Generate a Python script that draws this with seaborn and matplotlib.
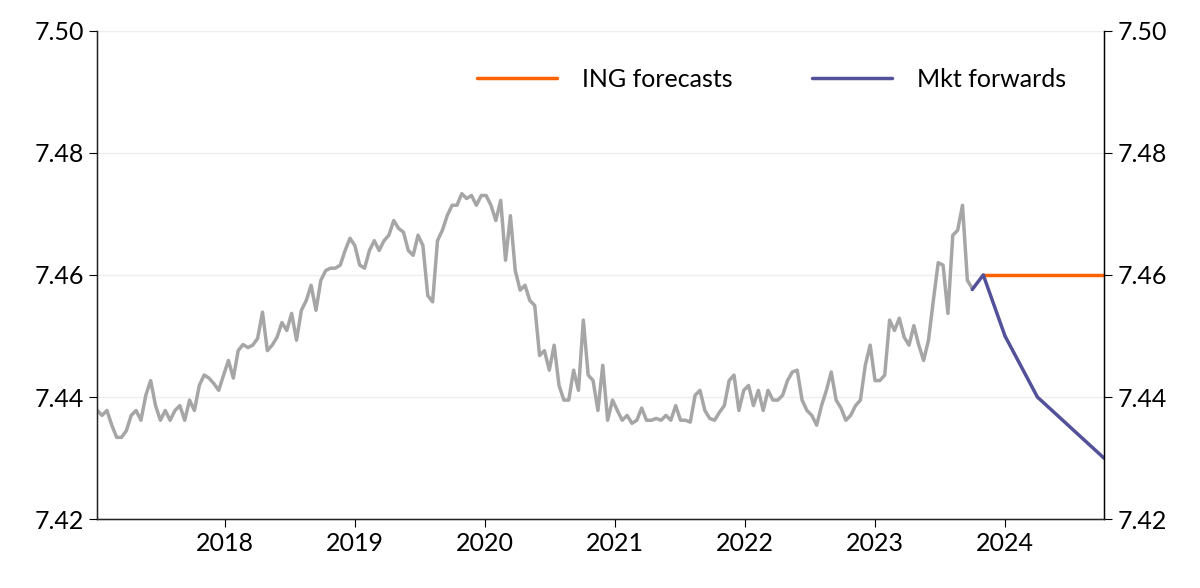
import numpy as np
import pandas as pd
import seaborn as sns
import matplotlib.pyplot as plt
import matplotlib.dates as mdates

spot_start, spot_end = "2017-01-08", "2023-10-01"
spot_values = [
    7.4378, 7.4370, 7.4378, 7.4354, 7.4334, 7.4334, 7.4345, 7.4370, 7.4378, 7.4362, 7.4403, 7.4427,
    7.4386, 7.4362, 7.4378, 7.4362, 7.4378, 7.4386, 7.4362, 7.4395, 7.4378, 7.4419, 7.4436, 7.4431,
    7.4422, 7.4411, 7.4436, 7.4460, 7.4431, 7.4476, 7.4486, 7.4481, 7.4485, 7.4496, 7.4539, 7.4476,
    7.4485, 7.4498, 7.4522, 7.4509, 7.4537, 7.4493, 7.4542, 7.4558, 7.4583, 7.4542, 7.4591, 7.4607,
    7.4611, 7.4611, 7.4616, 7.4640, 7.4660, 7.4648, 7.4616, 7.4611, 7.4640, 7.4656, 7.4640, 7.4656,
    7.4665, 7.4689, 7.4676, 7.4670, 7.4640, 7.4632, 7.4665, 7.4648, 7.4566, 7.4556, 7.4656, 7.4673,
    7.4697, 7.4714, 7.4714, 7.4733, 7.4725, 7.4730, 7.4714, 7.4730, 7.4730, 7.4714, 7.4689, 7.4722,
    7.4624, 7.4697, 7.4607, 7.4575, 7.4583, 7.4558, 7.4550, 7.4468, 7.4476, 7.4444, 7.4485, 7.4419,
    7.4395, 7.4395, 7.4444, 7.4411, 7.4526, 7.4436, 7.4427, 7.4378, 7.4452, 7.4362, 7.4395, 7.4378,
    7.4362, 7.4370, 7.4357, 7.4362, 7.4382, 7.4362, 7.4362, 7.4365, 7.4362, 7.4370, 7.4362, 7.4386,
    7.4362, 7.4362, 7.4359, 7.4403, 7.4411, 7.4378, 7.4365, 7.4362, 7.4375, 7.4386, 7.4427, 7.4436,
    7.4378, 7.4411, 7.4419, 7.4386, 7.4411, 7.4378, 7.4411, 7.4395, 7.4395, 7.4403, 7.4427, 7.4441,
    7.4444, 7.4395, 7.4378, 7.4370, 7.4354, 7.4386, 7.4411, 7.4441, 7.4395, 7.4382, 7.4362, 7.4370,
    7.4386, 7.4395, 7.4452, 7.4485, 7.4427, 7.4427, 7.4436, 7.4526, 7.4509, 7.4529, 7.4498, 7.4485,
    7.4517, 7.4485, 7.4460, 7.4493, 7.4558, 7.4620, 7.4616, 7.4537, 7.4665, 7.4673, 7.4714, 7.4591,
    7.4578,
]
ing_dates = ["2023-11-01", "2024-10-05"]
ing_values = [7.46, 7.46]
fwd_dates = ["2023-10-01", "2023-11-01", "2024-01-01", "2024-04-01", "2024-10-05"]
fwd_values = [7.4576, 7.46, 7.45, 7.44, 7.43]

spot = pd.DataFrame({
    "date": pd.to_datetime(np.linspace(pd.Timestamp(spot_start).value,
                                       pd.Timestamp(spot_end).value, len(spot_values))),
    "value": spot_values,
})
ing = pd.DataFrame({"date": pd.to_datetime(ing_dates), "value": ing_values})
fwd = pd.DataFrame({"date": pd.to_datetime(fwd_dates), "value": fwd_values})

sns.set_style("white")
plt.rcParams["font.family"] = ["Lato", "DejaVu Sans"]
plt.rcParams["text.color"] = "black"

fig, ax = plt.subplots(figsize=(12, 5.88), dpi=100)
sns.lineplot(data=spot, x="date", y="value", color="#a6a6a6", lw=2.5, ax=ax)
sns.lineplot(data=ing, x="date", y="value", color="#ff6200", lw=2.5, ax=ax, label="ING forecasts")
sns.lineplot(data=fwd, x="date", y="value", color="#525199", lw=2.5, ax=ax, label="Mkt forwards")

ax.set_xlim(pd.Timestamp("2017-01-08"), pd.Timestamp("2024-10-05"))
ax.set_ylim(7.42, 7.50)
ax.set_yticks([7.42, 7.44, 7.46, 7.48, 7.50])
ax.yaxis.set_major_formatter(plt.FuncFormatter(lambda v, p: f"{v:.2f}"))
ax.xaxis.set_major_locator(mdates.YearLocator())
ax.xaxis.set_major_formatter(mdates.DateFormatter("%Y"))
ax.grid(axis="y", color="#eeeeee", lw=1)
ax.set_xlabel("")
ax.set_ylabel("")
ax.tick_params(axis="both", labelsize=18, labelcolor="black", direction="out", length=6,
               color="black", left=True, bottom=True)
for s in ["left", "right", "bottom"]:
    ax.spines[s].set_color("black")
    ax.spines[s].set_linewidth(1)
ax.spines["top"].set_visible(False)

ax2 = ax.twinx()
ax2.set_ylim(ax.get_ylim())
ax2.set_yticks([7.42, 7.44, 7.46, 7.48, 7.50])
ax2.yaxis.set_major_formatter(plt.FuncFormatter(lambda v, p: f"{v:.2f}"))
ax2.tick_params(axis="y", labelsize=18, labelcolor="black", direction="out", length=6,
                color="black", right=True)
ax2.spines["top"].set_visible(False)
ax2.spines["right"].set_color("black")

ax.legend(loc="upper right", ncol=2, frameon=False, fontsize=18, handlelength=3.2,
          handletextpad=1.0, columnspacing=3.2, bbox_to_anchor=(0.985, 0.97))
plt.subplots_adjust(left=0.081, right=0.92, top=0.948, bottom=0.117)
plt.savefig("out.png")
plt.close()
